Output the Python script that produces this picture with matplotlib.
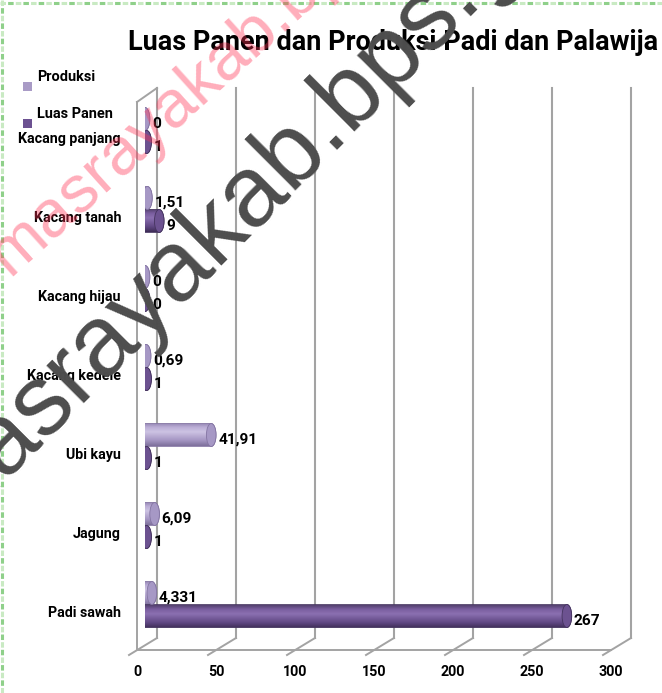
import numpy as np
import matplotlib
matplotlib.use("Agg")
import matplotlib.pyplot as plt
import matplotlib.transforms as mtransforms
from matplotlib.patches import Polygon, Ellipse, Rectangle
from matplotlib.colors import LinearSegmentedColormap
from matplotlib.lines import Line2D

# ---------------- data ----------------
categories = ["Padi sawah", "Jagung", "Ubi kayu", "Kacang kedele",
              "Kacang hijau", "Kacang tanah", "Kacang panjang"]
produksi = [4.331, 6.09, 41.91, 0.69, 0, 1.51, 0]
luas_panen = [267, 1, 1, 1, 0, 9, 1]
series_names = ["Produksi", "Luas Panen"]
xticks = [0, 50, 100, 150, 200, 250, 300]
title = "Luas Panen dan Produksi Padi dan Palawija"
watermark = "masrayakab.bps.go.id"

W, H = 662, 693
FONT = "Roboto"

fig = plt.figure(figsize=(W / 100, H / 100), dpi=100)
fig.patch.set_facecolor("white")
renderer = fig.canvas.get_renderer()


def fit_size(sample, target_px, family=FONT, weight="bold", base=20):
    t = fig.text(0, 0, sample, fontsize=base, family=family, fontweight=weight)
    w = t.get_window_extent(renderer).width
    t.remove()
    return base * target_px / w


cat_fs = fit_size("Kacang panjang", 102)
tick_fs = cat_fs
lab_fs = fit_size("41,91", 39)
leg_fs = fit_size("Produksi", 58)

# axes: x 0..300 -> px 145..619 ; y rows: category i at px 613-79*i
ax = fig.add_axes([145 / W, 1 - 650 / H, (619 - 145) / W, (650 - 88) / H])
ax.set_xlim(0, 300)
ylo, yhi = (613 - 650) / 79, (613 - 88) / 79
ax.set_ylim(ylo, yhi)
ax.axis("off")

top_px = mtransforms.Affine2D().scale(1 / W, -1 / H).translate(0, 1) + fig.transFigure


def xoff(dx):
    return mtransforms.offset_copy(ax.transData, fig=fig, x=dx, y=0, units="dots")


def blend(xt, yt):
    return mtransforms.blended_transform_factory(xt, yt)


grid_c = "#a3a3a3"
for t in xticks:
    ax.add_line(Line2D([t, t], [88, 638], transform=blend(xoff(12), top_px),
                       color=grid_c, lw=1.5, clip_on=False, zorder=1))
for t in xticks:
    p_back = xoff(12).transform((t, 0))[0]
    p_front = xoff(-16).transform((t, 0))[0]
    ax.add_line(Line2D([p_back, p_front], [638, 655],
                       transform=blend(mtransforms.IdentityTransform(), top_px),
                       color=grid_c, lw=1.4, clip_on=False, zorder=1))
    ax.text(t, 672, f"{t}", transform=blend(xoff(-8), top_px), ha="center",
            va="center", fontsize=tick_fs, fontweight="bold", family=FONT, color="black")

ax.add_line(Line2D([xticks[0], xticks[-1]], [650, 650], transform=blend(xoff(-8), top_px),
                   color=grid_c, lw=1.4, clip_on=False, zorder=1))
ax.add_line(Line2D([xticks[0], xticks[0]], [102, 650], transform=blend(xoff(-8), top_px),
                   color=grid_c, lw=1.4, clip_on=False, zorder=1))
pl = xoff(-8).transform((0, 0))[0]
pr = xoff(12).transform((0, 0))[0]
ax.add_line(Line2D([pl, pr], [102, 88], transform=blend(mtransforms.IdentityTransform(), top_px),
                   color=grid_c, lw=1.4, clip_on=False, zorder=1))

for i, c in enumerate(categories):
    ax.text(121, i, c, transform=blend(top_px, ax.transData), ha="right", va="center",
            fontsize=cat_fs, fontweight="bold", family=FONT, color="black")

# ---------------- cylinder bars ----------------
ppx = (619 - 145) / 300.0
a = 4.8 / ppx
b = 11.5 / 79.0

cmaps = {
    "Produksi": LinearSegmentedColormap.from_list(
        "p", [(0, "#7d6f9b"), (0.25, "#a596c3"), (0.62, "#cdc3e3"), (0.82, "#bbaed6"), (1, "#9384b2")]),
    "Luas Panen": LinearSegmentedColormap.from_list(
        "l", [(0, "#3e2c56"), (0.25, "#624985"), (0.62, "#8b70b1"), (0.82, "#7a5e9f"), (1, "#53406e")]),
}
faces = {"Produksi": ("#a698c5", "#8475a3"), "Luas Panen": ("#6c5290", "#45345f")}
offsets = {"Produksi": 20 / 79.0, "Luas Panen": -3 / 79.0}
grad = np.linspace(0, 1, 128).reshape(-1, 1)
th_l = np.linspace(np.pi / 2, 3 * np.pi / 2, 40)
th_r = np.linspace(-np.pi / 2, np.pi / 2, 40)


def fmt(v):
    return f"{v:g}".replace(".", ",")


for name, vals in zip(series_names, [produksi, luas_panen]):
    for i, v in enumerate(vals):
        yc = i + offsets[name]
        xs = np.concatenate([0 + a * np.cos(th_l), v + a * np.cos(th_r)])
        ys = np.concatenate([yc + b * np.sin(th_l), yc + b * np.sin(th_r)])
        poly = Polygon(np.column_stack([xs, ys]), closed=True, fc="none",
                       ec=faces[name][1], lw=0.6, zorder=4)
        ax.add_patch(poly)
        im = ax.imshow(grad, extent=(-a, v + a, yc - b, yc + b), origin="lower",
                       cmap=cmaps[name], aspect="auto", zorder=3, interpolation="bilinear")
        im.set_clip_path(poly)
        ax.add_patch(Ellipse((v, yc), 2 * a, 2 * b, fc=faces[name][0],
                             ec=faces[name][1], lw=0.6, zorder=5))
        ax.annotate(fmt(v), xy=(v, yc), xytext=(7, -5), textcoords="offset pixels",
                    ha="left", va="center", fontsize=lab_fs, fontweight="bold",
                    family=FONT, color="black", zorder=6, annotation_clip=False)

ax.set_xlim(0, 300)
ax.set_ylim(ylo, yhi)
ax.set_aspect("auto")

# ---------------- legend ----------------
leg_cols = {"Produksi": "#a99bc6", "Luas Panen": "#6c5191"}
for name, yy in zip(series_names, [77, 114]):
    fig.patches.append(Rectangle((23, yy + 4.5), 9, 9, transform=top_px,
                                 fc=leg_cols[name], ec="none"))
    fig.text(37, yy, name, transform=top_px, ha="left", va="center",
             fontsize=leg_fs, fontweight="bold", family=FONT, color="black")

# ---------------- title (fit to width) ----------------
fig.text(128, 42, title, transform=top_px, ha="left", va="center",
         fontsize=fit_size(title, 527), fontweight="bold", family=FONT, color="black")

# ---------------- dashed border ----------------
for col, off in [("#c9eac3", 0), ("#8fd08a", 2.5)]:
    fig.lines.append(Line2D([0, W], [3, 3], transform=top_px, color=col, lw=2.2,
                            linestyle=(off, (1.8, 3.2))))
    fig.lines.append(Line2D([2, 2], [0, H], transform=top_px, color=col, lw=2.2,
                            linestyle=(off, (1.8, 3.2))))


# ---------------- watermarks ----------------
def place_watermark(dot_xy, angle, size_px, color, z):
    fs = size_px * 0.72
    pre = watermark.split(".")[0]
    tw = fig.text(0, 0, pre, fontsize=fs, family="Liberation Sans")
    w_pre = tw.get_window_extent(renderer).width
    tw.remove()
    dist = w_pre + 0.139 * size_px
    th = np.deg2rad(angle)
    sx = dot_xy[0] - dist * np.cos(th)
    sy = dot_xy[1] + dist * np.sin(th)
    fig.text(sx, sy, watermark, transform=top_px, rotation=angle, rotation_mode="anchor",
             ha="left", va="baseline", fontsize=fs, family="Liberation Sans",
             color=color, zorder=z)


place_watermark((288, 26), 42, 67, (1.0, 0.2, 0.33, 0.4), 10)
place_watermark((340, 141), 45, 100, "#4d4d4d", 11)

fig.savefig("out.png", dpi=100)
